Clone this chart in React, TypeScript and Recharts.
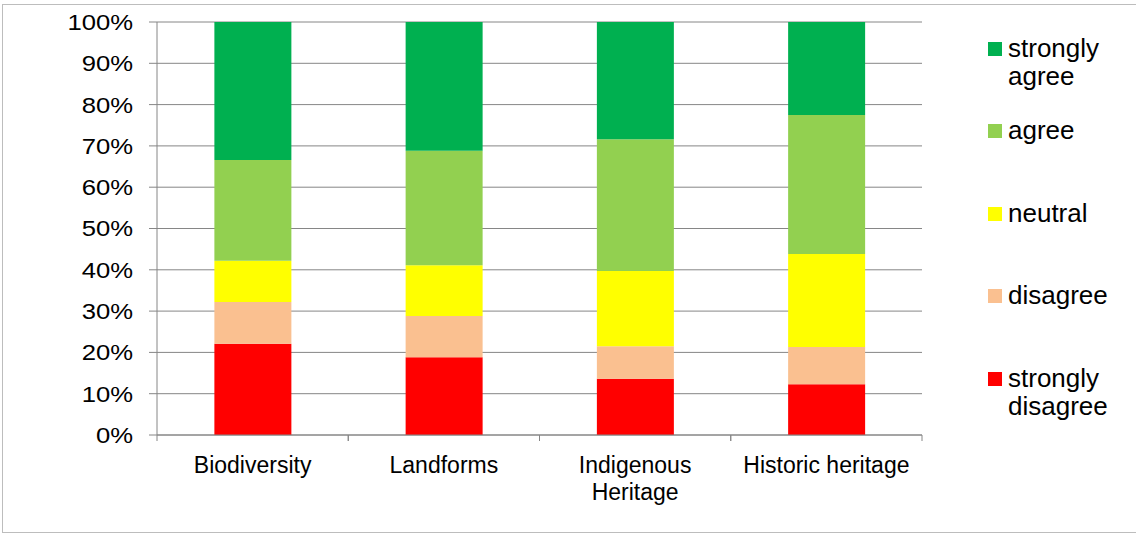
import React from 'react';
import { BarChart, Bar, XAxis, YAxis, CartesianGrid } from 'recharts';

// survey categories along the x axis
const categories = ['Biodiversity', 'Landforms', 'Indigenous Heritage', 'Historic heritage'];

// share of responses per category (percent), bottom of the stack first
const stronglyDisagree = [22.1, 18.8, 13.6, 12.3];
const disagree = [10.1, 10.0, 7.9, 9.0];
const neutral = [10.0, 12.3, 18.2, 22.5];
const agree = [24.4, 27.7, 31.9, 33.7];
const stronglyAgree = [33.4, 31.2, 28.4, 22.5];

const yTicks = [0, 0.1, 0.2, 0.3, 0.4, 0.5, 0.6, 0.7, 0.8, 0.9, 1];

const series = [
  { key: 'stronglyDisagree', name: 'strongly disagree', color: '#FF0000', values: stronglyDisagree },
  { key: 'disagree', name: 'disagree', color: '#FAC090', values: disagree },
  { key: 'neutral', name: 'neutral', color: '#FFFF00', values: neutral },
  { key: 'agree', name: 'agree', color: '#92D050', values: agree },
  { key: 'stronglyAgree', name: 'strongly agree', color: '#00B050', values: stronglyAgree },
];

const data = categories.map((name, i) => {
  const row: Record<string, string | number> = { name };
  series.forEach((s) => {
    row[s.key] = s.values[i];
  });
  return row;
});

const WIDTH = 1136;
const HEIGHT = 533;
const PLOT_LEFT = 157;
const PLOT_RIGHT = 922;
const PLOT_TOP = 22;
const PLOT_BOTTOM = 435;
const BAND = (PLOT_RIGHT - PLOT_LEFT) / categories.length;

const FONT = '"Liberation Sans", Arial, sans-serif';
const AXIS_GREY = '#868686';
const X_FONT_SIZE = 23;

// greedy word wrap, measured with a canvas so it matches the svg text
let measureCtx: CanvasRenderingContext2D | null = null;
const wrapLabel = (label: string, maxWidth: number) => {
  if (!measureCtx) {
    measureCtx = document.createElement('canvas').getContext('2d');
  }
  if (!measureCtx) return [label];
  measureCtx.font = `${X_FONT_SIZE}px ${FONT}`;
  const lines: string[] = [];
  let current = '';
  label.split(' ').forEach((word) => {
    const next = current ? `${current} ${word}` : word;
    if (current && measureCtx!.measureText(next).width > maxWidth) {
      lines.push(current);
      current = word;
    } else {
      current = next;
    }
  });
  if (current) lines.push(current);
  return lines;
};

// category label plus Excel-style tick marks on the band edges
const CategoryTick = ({ x, payload }: any) => {
  const lines = wrapLabel(String(payload.value), BAND - 12);
  return (
    <g>
      <line x1={x - BAND / 2} x2={x - BAND / 2} y1={PLOT_BOTTOM} y2={PLOT_BOTTOM + 6} stroke={AXIS_GREY} />
      <line x1={x + BAND / 2} x2={x + BAND / 2} y1={PLOT_BOTTOM} y2={PLOT_BOTTOM + 6} stroke={AXIS_GREY} />
      <text x={x} y={PLOT_BOTTOM + 38} textAnchor="middle" fontSize={X_FONT_SIZE} fontFamily={FONT} fill="#000">
        {lines.map((line, i) => (
          <tspan key={line} x={x} dy={i === 0 ? 0 : 26.7}>
            {line}
          </tspan>
        ))}
      </text>
    </g>
  );
};

// percent labels are drawn slightly widened, like the original export
const PercentTick = ({ x, y, payload }: any) => (
  <text
    transform={`translate(${x},${y}) scale(1.14,1)`}
    textAnchor="end"
    dy="0.355em"
    fontSize={22.5}
    fontFamily={FONT}
    fill="#000"
  >
    {`${Math.round(payload.value * 100)}%`}
  </text>
);

const LegendBox = () => (
  <div style={{ position: 'absolute', left: 988, top: 0, fontFamily: FONT, fontSize: 26, color: '#000' }}>
    {[...series].reverse().map((s, i) => {
      const center = 49 + i * 82.5;
      return (
        <div key={s.key} style={{ position: 'absolute', top: center - 15.3, left: 0, width: 145 }}>
          <div style={{ position: 'absolute', top: 8.3, left: 0, width: 14, height: 14, background: s.color }} />
          <div style={{ position: 'absolute', top: 0, left: 20, width: 125, lineHeight: '28px' }}>{s.name}</div>
        </div>
      );
    })}
  </div>
);

export default function App() {
  return (
    <div style={{ position: 'absolute', left: 0, top: 0, width: WIDTH, height: HEIGHT, background: '#fff', overflow: 'hidden' }}>
      <div
        style={{
          position: 'absolute',
          left: 2,
          top: 4,
          width: WIDTH + 10,
          height: 529,
          boxSizing: 'border-box',
          border: '1px solid #bdbdbd',
        }}
      />
      <div style={{ position: 'absolute', left: 0, top: 0 }}>
        <BarChart
          width={WIDTH}
          height={HEIGHT}
          data={data}
          stackOffset="expand"
          barCategoryGap="30%"
          margin={{ top: PLOT_TOP, right: WIDTH - PLOT_RIGHT, bottom: 0, left: 0 }}
        >
          <CartesianGrid vertical={false} stroke={AXIS_GREY} />
          <XAxis
            dataKey="name"
            height={HEIGHT - PLOT_BOTTOM}
            axisLine={{ stroke: AXIS_GREY }}
            tickLine={false}
            tick={<CategoryTick />}
            interval={0}
          />
          <YAxis
            width={PLOT_LEFT}
            domain={[0, 1]}
            ticks={yTicks}
            axisLine={{ stroke: AXIS_GREY }}
            tickLine={{ stroke: AXIS_GREY }}
            tickSize={8}
            tickMargin={16}
            tick={<PercentTick />}
          />
          {series.map((s) => (
            <Bar key={s.key} dataKey={s.key} name={s.name} stackId="a" fill={s.color} isAnimationActive={false} />
          ))}
        </BarChart>
      </div>
      <LegendBox />
    </div>
  );
}
